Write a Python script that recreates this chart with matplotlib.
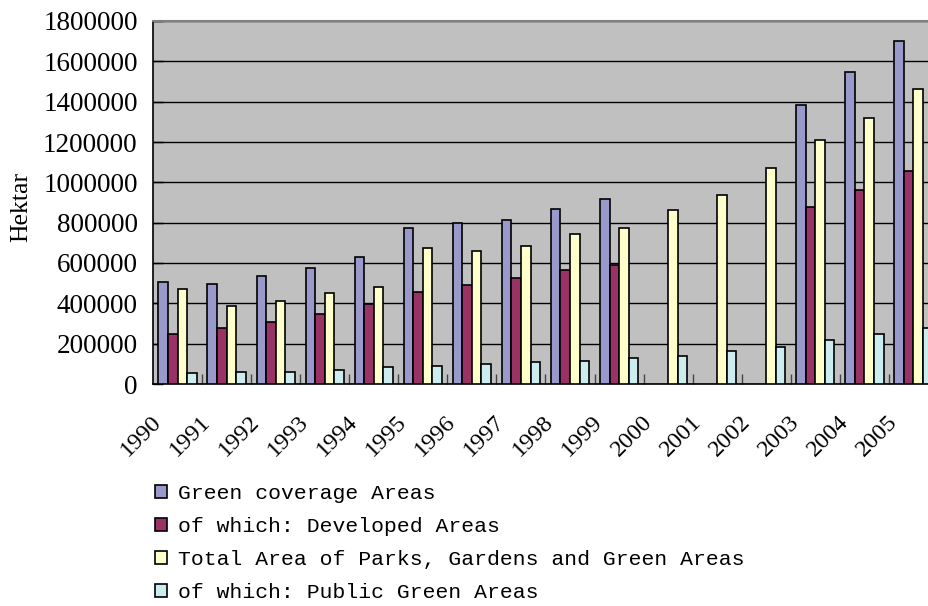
import numpy as np
import matplotlib
matplotlib.use('Agg')
import matplotlib.pyplot as plt
import matplotlib.transforms as mtransforms

years = ['1990', '1991', '1992', '1993', '1994', '1995', '1996', '1997',
         '1998', '1999', '2000', '2001', '2002', '2003', '2004', '2005']
nan = np.nan
green_coverage = [504000, 496000, 535000, 575000, 628000, 775000, 800000, 815000,
                  869000, 916000, nan, nan, nan, 1382000, 1549000, 1702000]
developed = [248000, 279000, 309000, 349000, 397000, 456000, 489000, 527000,
             565000, 590000, nan, nan, nan, 878000, 962000, 1055000]
parks_total = [473000, 388000, 410000, 450000, 481000, 674000, 660000, 683000,
               744000, 775000, 861000, 939000, 1071000, 1211000, 1321000, 1461000]
public_green = [53000, 61000, 61000, 69000, 83000, 91000, 99000, 107000,
                116000, 129000, 137000, 162000, 185000, 217000, 248000, 278000]

series = [
    ('Green coverage Areas', green_coverage, '#9999CC'),
    ('of which: Developed Areas', developed, '#993366'),
    ('Total Area of Parks, Gardens and Green Areas', parks_total, '#FFFFCC'),
    ('of which: Public Green Areas', public_green, '#CCECF0'),
]

serif = 'Liberation Serif'
mono = 'Liberation Mono'

fig = plt.figure(figsize=(9.29, 6.06), dpi=100)
ax = fig.add_axes([153 / 929, 222 / 606, 785 / 929, 363 / 606])
ax.set_facecolor('#C0C0C0')

x = np.arange(len(years))
w = 0.195
for k, (name, vals, col) in enumerate(series):
    ax.bar(x + (k - 1.5) * w, vals, width=w, color=col, edgecolor='black',
           linewidth=1.2, label=name, zorder=3)

ax.set_xlim(-0.5, len(years) - 0.5)
ax.set_ylim(0, 1800000)
ax.set_yticks(np.arange(0, 1800001, 200000))
ax.set_yticklabels([str(v) for v in range(0, 1800001, 200000)], fontfamily=serif, fontsize=19.5)
ax.yaxis.grid(True, color='black', linewidth=1.0, zorder=1)
ax.set_axisbelow(True)
ax.tick_params(axis='y', direction='in', length=7, width=1, pad=11)

ax.set_xticks(x)
ax.set_xticklabels(years, fontfamily=serif, fontsize=17.5, rotation=45, ha='right')
ax.set_xticks(np.arange(0.5, len(years) - 0.5, 1), minor=True)
ax.tick_params(axis='x', which='major', length=0, pad=20)
ax.tick_params(axis='x', which='minor', direction='in', length=7, width=1, color='#444444')
# labels sit a bit left of the group centre in the original
shift = mtransforms.ScaledTranslation(-0.12, 0, fig.dpi_scale_trans)
for lab in ax.get_xticklabels():
    lab.set_transform(lab.get_transform() + shift)

ax.set_ylabel('Hektar', fontfamily=serif, fontsize=18.5)
ax.yaxis.set_label_coords(-0.154, 0.488)

for s in ['left', 'bottom']:
    ax.spines[s].set_color('black')
    ax.spines[s].set_linewidth(1.2)
ax.spines['top'].set_color('#808080')
ax.spines['top'].set_linewidth(1.5)
ax.spines['right'].set_visible(False)

fig.legend(loc='upper left', bbox_to_anchor=(155 / 929, 1 - 484 / 606),
           frameon=False, prop={'family': mono, 'size': 15.4},
           handlelength=0.56, handleheight=0.56, handletextpad=0.5,
           labelspacing=0.66, borderpad=0, borderaxespad=0)

fig.savefig('out.png', dpi=100)
